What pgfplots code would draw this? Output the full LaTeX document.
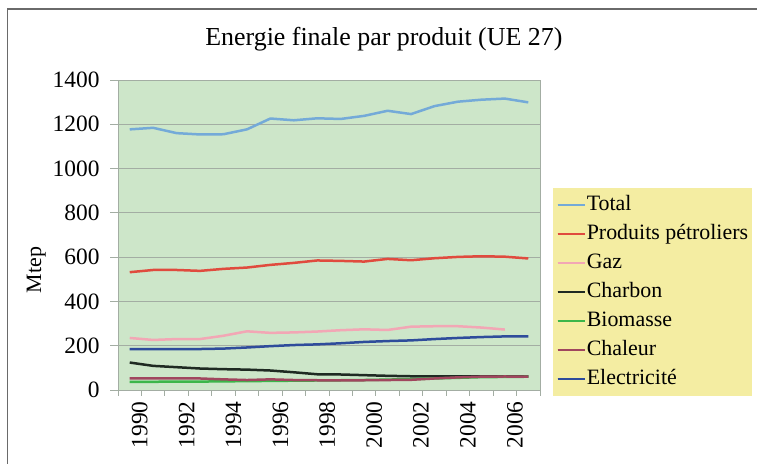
\documentclass[border=0pt]{standalone}
\usepackage{fontspec}
\setmainfont{Liberation Serif}
\usepackage{pgfplots}
\pgfplotsset{compat=1.18}
\definecolor{plotbg}{HTML}{CDE6C9}
\definecolor{legbg}{HTML}{F4EDA2}
\definecolor{framec}{HTML}{6A6A6A}
\definecolor{gridc}{HTML}{A3ADA3}
\definecolor{cTotal}{HTML}{74AAD8}
\definecolor{cPetrol}{HTML}{E04B3E}
\definecolor{cGaz}{HTML}{F2A7B5}
\definecolor{cCharbon}{HTML}{1F2A22}
\definecolor{cBio}{HTML}{3CB64A}
\definecolor{cChaleur}{HTML}{A0465E}
\definecolor{cElec}{HTML}{2E4C9B}
\begin{document}
\begin{tikzpicture}[x=1bp,y=1bp]
\useasboundingbox (0,0) rectangle (757,464);
\fill[white] (0,0) rectangle (757,464);
\draw[line width=1.5bp, color=framec] (7.5,-2) rectangle (762,455);
\begin{axis}[
  at={(118bp,74bp)}, anchor=south west,
  scale only axis, width=422bp, height=310bp,
  xmin=-0.5, xmax=17.5, ymin=0, ymax=1400,
  axis background/.style={fill=plotbg},
  axis line style={gridc, line width=0.8bp},
  ytick={0,200,...,1400},
  ymajorgrids, grid style={gridc, line width=0.9bp},
  xtick={0,2,4,6,8,10,12,14,16},
  xticklabels={1990,1992,1994,1996,1998,2000,2002,2004,2006},
  minor xtick={-0.5,0.5,...,17.5},
  major x tick style={draw=none},
  tick align=outside, tick pos=left,
  major tick length=8bp, minor tick length=6bp,
  tick style={gridc, line width=0.8bp},
  /pgf/number format/assume math mode=true,
  /pgf/number format/1000 sep={},
  ticklabel style={font=\fontsize{23.5}{26}\selectfont},
  yticklabel style={xshift=-7bp},
  xticklabel style={rotate=90, anchor=east, yshift=-10bp},
  ylabel={Mtep},
  ylabel style={font=\fontsize{22}{24}\selectfont, at={(ticklabel cs:0.387)}},
  title={Energie finale par produit (UE 27)},
  title style={font=\fontsize{26}{30}\selectfont, at={(0.630,1.092)}, anchor=base},
  legend cell align=left,
  legend image code/.code={\draw[#1,line width=2.5bp] (0bp,0bp) -- (22bp,0bp); \path (0bp,0bp) -- (27bp,0bp);},
  legend style={at={(1.031,0.652)}, anchor=north west, fill=legbg, draw=none,
    font=\fontsize{22}{24}\selectfont, row sep=7bp, inner xsep=3bp, inner ysep=6bp,
    nodes={inner sep=1bp, text height=15bp, text depth=5bp}},
  every axis plot/.append style={line width=2.5bp, line join=round},
]
\addplot[cTotal] coordinates {(0,1177)(1,1184)(2,1160)(3,1154)(4,1155)(5,1177)(6,1226)(7,1218)(8,1227)(9,1224)(10,1238)(11,1261)(12,1246)(13,1282)(14,1302)(15,1311)(16,1316)(17,1299)};
\addlegendentry{Total}
\addplot[cPetrol] coordinates {(0,532)(1,542)(2,542)(3,538)(4,547)(5,553)(6,565)(7,574)(8,585)(9,583)(10,580)(11,592)(12,586)(13,595)(14,601)(15,604)(16,602)(17,594)};
\addlegendentry{Produits pétroliers}
\addplot[cGaz] coordinates {(0,235)(1,226)(2,230)(3,230)(4,245)(5,265)(6,258)(7,260)(8,264)(9,270)(10,274)(11,271)(12,286)(13,288)(14,288)(15,282)(16,273)};
\addlegendentry{Gaz}
\addplot[cCharbon] coordinates {(0,124)(1,109)(2,103)(3,97)(4,94)(5,92)(6,88)(7,80)(8,71)(9,70)(10,67)(11,64)(12,62)(13,62)(14,62)(15,62)(16,61)(17,61)};
\addlegendentry{Charbon}
\addplot[cBio] coordinates {(0,37)(1,37)(2,38)(3,38)(4,39)(5,40)(6,41)(7,42)(8,43)(9,44)(10,45)(11,47)(12,49)(13,52)(14,55)(15,58)(16,59)(17,60)};
\addlegendentry{Biomasse}
\addplot[cChaleur] coordinates {(0,53)(1,53)(2,53)(3,52)(4,48)(5,45)(6,48)(7,45)(8,44)(9,44)(10,44)(11,45)(12,46)(13,52)(14,57)(15,60)(16,61)(17,60)};
\addlegendentry{Chaleur}
\addplot[cElec] coordinates {(0,185)(1,185)(2,185)(3,185)(4,187)(5,192)(6,198)(7,203)(8,206)(9,211)(10,217)(11,221)(12,224)(13,230)(14,235)(15,239)(16,242)(17,242)};
\addlegendentry{Electricité}
\end{axis}
\end{tikzpicture}
\end{document}
